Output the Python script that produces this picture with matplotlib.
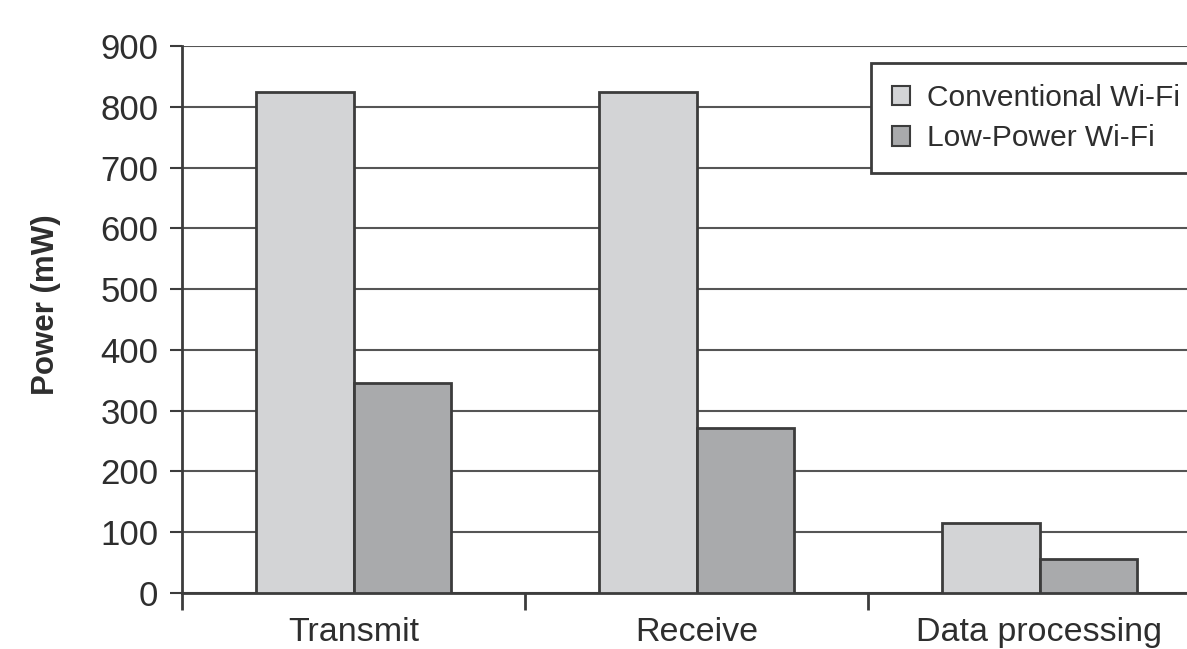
import numpy as np
import matplotlib.pyplot as plt
from matplotlib.patches import Patch

categories = ["Transmit", "Receive", "Data processing"]
conventional = [825, 825, 115]
low_power = [345, 271, 56]
series_names = ["Conventional Wi-Fi", "Low-Power Wi-Fi"]

plt.rcParams['font.family'] = ['Liberation Sans', 'DejaVu Sans']
text_color = "#2e2e2e"
edge = "#3c3c3c"

fig = plt.figure(figsize=(11.87, 6.49), dpi=100)
ax = fig.add_axes([182 / 1187, 1 - 593 / 649, 1029 / 1187, 547 / 649])

x = np.arange(len(categories)) + 0.5
w = 0.283
ax.bar(x - w / 2, conventional, w, color="#d3d4d6", edgecolor=edge, linewidth=2, zorder=3)
ax.bar(x + w / 2, low_power, w, color="#a9aaac", edgecolor=edge, linewidth=2, zorder=3)

ax.set_xlim(0, 3)
ax.set_ylim(0, 900)
ax.set_yticks(range(0, 901, 100))
ax.yaxis.grid(True, color="#555555", linewidth=1.5, zorder=0)

# category ticks sit between groups, labels in the middle
ax.set_xticks([0, 1, 2, 3])
ax.set_xticklabels([])
ax.set_xticks(x, minor=True)
ax.set_xticklabels(categories, minor=True)
ax.tick_params(axis="x", which="major", length=12, width=2, color=edge, direction="out")
ax.tick_params(axis="x", which="minor", length=0, pad=17, labelsize=24.5, labelcolor=text_color)
ax.tick_params(axis="y", length=9, width=1.5, color=edge, pad=8, labelsize=25, labelcolor=text_color)

for s in ["top", "right"]:
    ax.spines[s].set_visible(False)
ax.spines["left"].set_color(edge)
ax.spines["left"].set_linewidth(2)
ax.spines["bottom"].set_color(edge)
ax.spines["bottom"].set_linewidth(2)

ax.set_ylabel("Power (mW)", fontsize=22.5, fontweight="bold", color=text_color)
ax.yaxis.set_label_coords(-0.118, 0.527)

handles = [Patch(facecolor="#d3d4d6", edgecolor=edge, linewidth=1.5),
           Patch(facecolor="#a9aaac", edgecolor=edge, linewidth=1.5)]
leg = fig.legend(handles, series_names, loc="upper left",
                 bbox_to_anchor=(871 / 1187, 1 - 63 / 649), fontsize=21.5,
                 fancybox=False, framealpha=1, edgecolor=edge, borderaxespad=0,
                 handlelength=0.62, handleheight=0.62, handletextpad=0.55,
                 borderpad=0.7, labelspacing=0.42, labelcolor=text_color)
leg.get_frame().set_linewidth(2)

fig.savefig("out.png", dpi=100)
